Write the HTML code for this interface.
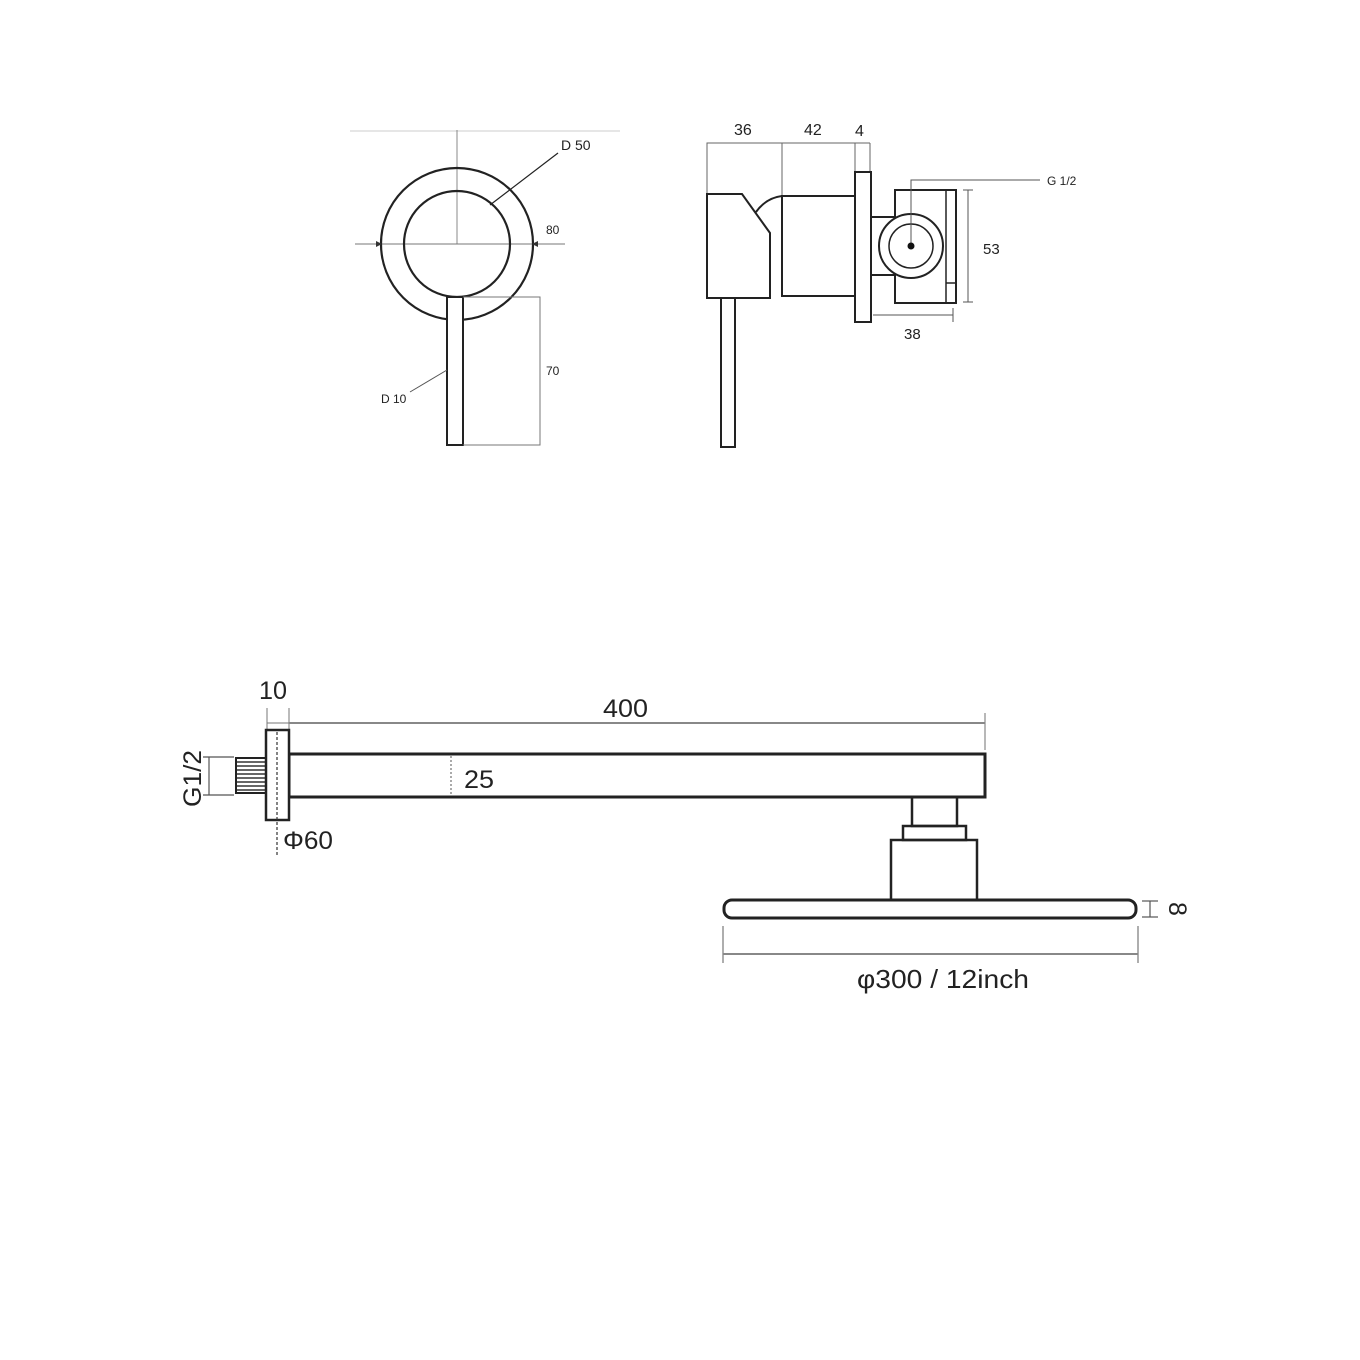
<!DOCTYPE html>
<html><head><meta charset="utf-8"><style>
html,body{margin:0;padding:0;background:#fff;}
svg{display:block;}
text{font-family:"Liberation Sans",sans-serif;fill:#222;}
</style></head><body>
<svg width="1360" height="1360" viewBox="0 0 1360 1360" xmlns="http://www.w3.org/2000/svg">
<defs>
<pattern id="hatch" width="4" height="4" patternUnits="userSpaceOnUse"><rect width="4" height="4" fill="#fff"/><line x1="0" y1="2" x2="4" y2="2" stroke="#333" stroke-width="1.5"/></pattern>
</defs>
<!-- TOP LEFT: front view -->
<g fill="none" stroke="#222">
<line x1="350" y1="131" x2="620" y2="131" stroke="#ccc" stroke-width="1"/>
<line x1="457" y1="130" x2="457" y2="244" stroke="#888" stroke-width="1"/>
<line x1="355" y1="244" x2="565" y2="244" stroke="#777" stroke-width="1"/>
<circle cx="457" cy="244" r="76" stroke-width="2.2"/>
<circle cx="457" cy="244" r="53" stroke-width="2.2"/>
<rect x="447" y="297" width="16" height="148" fill="#fff" stroke-width="2"/>
<line x1="490" y1="205" x2="558" y2="153" stroke-width="1.2"/>
<polyline points="463,297 540,297 540,445 463,445" stroke="#777" stroke-width="1"/>
<line x1="447" y1="370" x2="410" y2="392" stroke="#555" stroke-width="1"/>
</g>
<polygon points="376,241 382,244 376,247" fill="#333"/>
<polygon points="538,241 532,244 538,247" fill="#333"/>
<text x="561" y="150" font-size="14">D 50</text>
<text x="546" y="234" font-size="12">80</text>
<text x="546" y="375" font-size="12">70</text>
<text x="381" y="403" font-size="12">D 10</text>

<!-- TOP RIGHT: side view -->
<g fill="none" stroke="#222" stroke-width="2">
<polyline points="707,193 707,143 782,143 855,143 870,143" stroke="#666" stroke-width="1"/>
<line x1="782" y1="143" x2="782" y2="196" stroke="#666" stroke-width="1"/>
<line x1="855" y1="143" x2="855" y2="172" stroke="#666" stroke-width="1"/>
<line x1="870" y1="143" x2="870" y2="172" stroke="#666" stroke-width="1"/>
<path d="M756,212 Q766,198 782,196" />
<rect x="782" y="196" width="74" height="100" fill="#fff"/>
<polygon points="707,194 742,194 770,233 770,298 707,298" fill="#fff"/>
<rect x="721" y="298" width="14" height="149" fill="#fff"/>
<rect x="855" y="172" width="16" height="150" fill="#fff"/>
<rect x="871" y="217" width="24" height="58" fill="#fff"/>
<rect x="895" y="190" width="61" height="113" fill="#fff"/>
<line x1="946" y1="190" x2="946" y2="303" stroke-width="1.5"/>
<line x1="946" y1="283" x2="956" y2="283" stroke-width="1.5"/>
<circle cx="911" cy="246" r="32" fill="#fff"/>
<circle cx="911" cy="246" r="22" stroke-width="1.5"/>
<polyline points="911,246 911,180 1040,180" stroke="#555" stroke-width="1"/>
<line x1="968" y1="190" x2="968" y2="302" stroke="#555" stroke-width="1"/>
<line x1="963" y1="190" x2="973" y2="190" stroke="#555" stroke-width="1"/>
<line x1="963" y1="302" x2="973" y2="302" stroke="#555" stroke-width="1"/>
<line x1="873" y1="315" x2="953" y2="315" stroke="#555" stroke-width="1"/>
<line x1="953" y1="308" x2="953" y2="322" stroke="#555" stroke-width="1"/>
</g>
<circle cx="911" cy="246" r="3.5" fill="#111"/>
<text x="734" y="135" font-size="16">36</text>
<text x="804" y="135" font-size="16">42</text>
<text x="855" y="136" font-size="16">4</text>
<text x="1047" y="185" font-size="12">G 1/2</text>
<text x="983" y="254" font-size="15">53</text>
<text x="904" y="339" font-size="15">38</text>

<!-- BOTTOM: shower arm -->
<g fill="none" stroke="#222">
<line x1="267" y1="708" x2="267" y2="730" stroke="#777" stroke-width="1"/>
<line x1="289" y1="708" x2="289" y2="730" stroke="#777" stroke-width="1"/>
<line x1="267" y1="723" x2="289" y2="723" stroke="#777" stroke-width="1"/>
<line x1="289" y1="723" x2="985" y2="723" stroke="#888" stroke-width="2"/>
<line x1="985" y1="713" x2="985" y2="750" stroke="#888" stroke-width="1.2"/>
<rect x="289" y="754" width="696" height="43" stroke-width="3"/>
<line x1="451" y1="756" x2="451" y2="796" stroke="#555" stroke-width="1" stroke-dasharray="2,2"/>
<rect x="236" y="758" width="30" height="35" fill="url(#hatch)" stroke-width="2"/>
<rect x="266" y="730" width="23" height="90" fill="#fff" stroke-width="2.5"/>
<line x1="277" y1="732" x2="277" y2="856" stroke="#333" stroke-width="1.2" stroke-dasharray="3,2"/>
<line x1="209" y1="757" x2="209" y2="795" stroke="#555" stroke-width="1.2"/>
<line x1="203" y1="757" x2="234" y2="757" stroke="#555" stroke-width="1.2"/>
<line x1="203" y1="795" x2="234" y2="795" stroke="#555" stroke-width="1.2"/>
<rect x="912" y="797" width="45" height="29" stroke-width="2.5"/>
<rect x="903" y="826" width="63" height="14" stroke-width="2.5"/>
<rect x="891" y="840" width="86" height="60" stroke-width="2.5"/>
<rect x="724" y="900" width="412" height="18" rx="8" stroke-width="3"/>
<line x1="1150" y1="901" x2="1150" y2="917" stroke="#555" stroke-width="1.2"/>
<line x1="1142" y1="901" x2="1158" y2="901" stroke="#555" stroke-width="1.2"/>
<line x1="1142" y1="917" x2="1158" y2="917" stroke="#555" stroke-width="1.2"/>
<line x1="723" y1="926" x2="723" y2="963" stroke="#777" stroke-width="1.2"/>
<line x1="1138" y1="926" x2="1138" y2="963" stroke="#777" stroke-width="1.2"/>
<line x1="723" y1="954" x2="1138" y2="954" stroke="#888" stroke-width="2"/>
</g>
<text x="259" y="699" font-size="25" textLength="28" lengthAdjust="spacingAndGlyphs">10</text>
<text x="603" y="717" font-size="25" textLength="45" lengthAdjust="spacingAndGlyphs">400</text>
<text x="464" y="788" font-size="25" textLength="30" lengthAdjust="spacingAndGlyphs">25</text>
<text x="283" y="849" font-size="25" textLength="50" lengthAdjust="spacingAndGlyphs">Φ60</text>
<text font-size="25" textLength="57" lengthAdjust="spacingAndGlyphs" transform="translate(201,807) rotate(-90)">G1/2</text>
<text font-size="25" transform="translate(1169,902) rotate(90)">8</text>
<text x="857" y="988" font-size="26" textLength="172" lengthAdjust="spacingAndGlyphs">φ300 / 12inch</text>
</svg>
</body></html>
